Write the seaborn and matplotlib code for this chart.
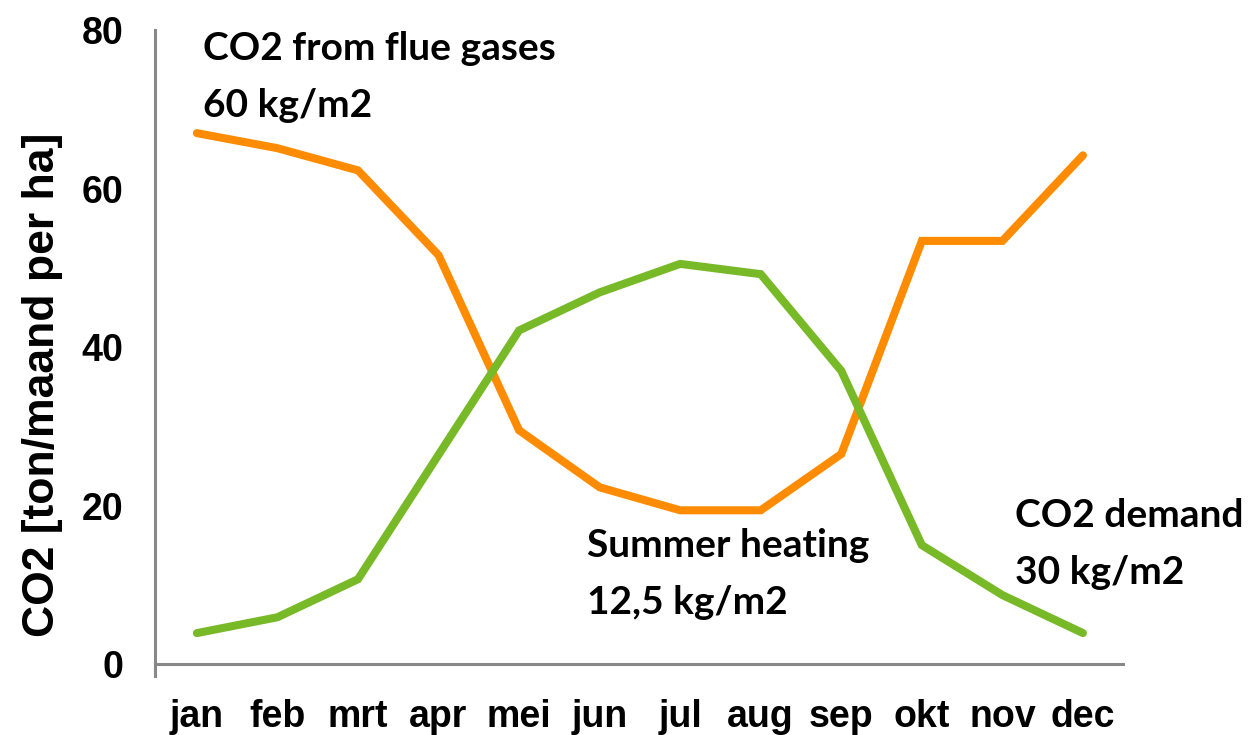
import numpy as np
import pandas as pd
import matplotlib
matplotlib.use("Agg")
import matplotlib.pyplot as plt
import seaborn as sns

months = ["jan", "feb", "mrt", "apr", "mei", "jun", "jul", "aug", "sep", "okt", "nov", "dec"]
flue_gas = [67.0, 65.1, 62.3, 51.6, 29.5, 22.3, 19.4, 19.4, 26.5, 53.4, 53.4, 64.2]
demand = [3.9, 5.9, 10.7, 26.4, 42.1, 46.9, 50.5, 49.2, 37.0, 15.0, 8.7, 3.9]
y_ticks = [0, 20, 40, 60, 80]

ORANGE = "#FF8C00"
GREEN = "#78B928"
GREY = "#888888"

sns.set_style("white")
plt.rcParams["font.family"] = ["Liberation Sans", "DejaVu Sans"]
plt.rcParams["text.color"] = "black"
plt.rcParams["axes.labelcolor"] = "black"
plt.rcParams["xtick.labelcolor"] = "black"
plt.rcParams["ytick.labelcolor"] = "black"

df = pd.DataFrame({
    "month": months * 2,
    "idx": list(range(12)) * 2,
    "co2": flue_gas + demand,
    "series": ["flue"] * 12 + ["demand"] * 12,
})

fig = plt.figure(figsize=(12.55, 7.35), dpi=100)
ax = fig.add_axes([0.1235, 0.0966, 0.895 - 0.1235, 0.959 - 0.0966])

sns.lineplot(data=df, x="idx", y="co2", hue="series",
             palette={"flue": ORANGE, "demand": GREEN},
             linewidth=5.8, legend=False, ax=ax, sort=False)
for line in ax.lines:
    line.set_solid_capstyle("round")
    line.set_solid_joinstyle("miter")

ax.set_xlim(-0.52, 11.5)
ax.set_ylim(0, 80)
ax.set_xticks(range(12))
ax.set_xticklabels(months)
ax.set_yticks(y_ticks)
ax.tick_params(axis="x", length=0, pad=25, labelsize=27, labelcolor="black")
ax.tick_params(axis="y", length=7, width=2.2, color=GREY, direction="out", pad=16,
               labelsize=27, labelcolor="black")
for lbl in ax.get_xticklabels() + ax.get_yticklabels():
    lbl.set_fontweight("bold")

for side in ["top", "right"]:
    ax.spines[side].set_visible(False)
for side in ["left", "bottom"]:
    ax.spines[side].set_color(GREY)
    ax.spines[side].set_linewidth(2.2)
ax.spines["left"].set_bounds(-1.5, 80)

ax.set_xlabel("")
ax.set_ylabel("CO2 [ton/maand per ha]", fontsize=32, fontweight="bold", color="black")
ax.yaxis.set_label_coords(-0.095, 0.44)

note = dict(fontsize=28, fontweight="bold", family=["Lato", "DejaVu Sans"],
            ha="left", va="center", color="black")
ax.text(0.075, 77.7, "CO2 from flue gases", **note)
ax.text(0.075, 70.5, "60 kg/m2", **note)
ax.text(4.84, 15.0, "Summer heating", **note)
ax.text(4.84, 7.7, "12,5 kg/m2", **note)
ax.text(10.16, 18.8, "CO2 demand", **note)
ax.text(10.16, 11.5, "30 kg/m2", **note)

fig.savefig("out.png", dpi=100)
